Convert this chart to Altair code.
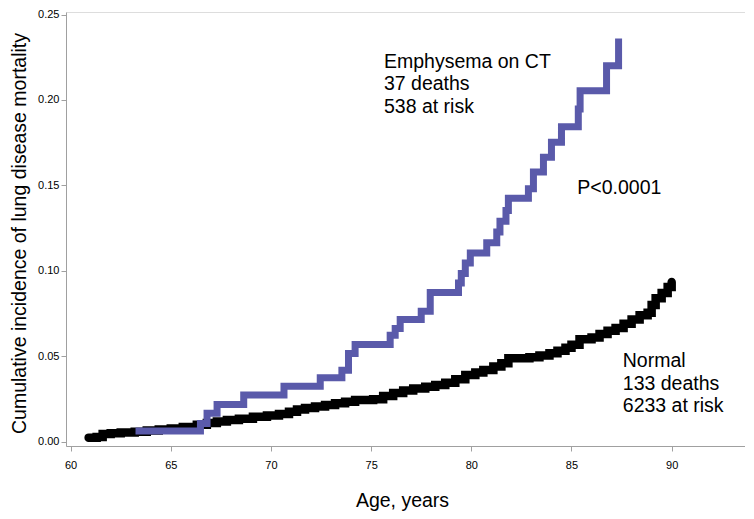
import altair as alt
import pandas as pd

# Emphysema on CT (Kaplan-Meier style step curve)
emph_age = [63.24, 66.48, 66.81, 67.31, 68.64, 70.65, 72.46, 73.54, 73.87, 74.20,
            75.95, 76.20, 76.45, 77.50, 77.95, 79.36, 79.50, 79.70, 79.95, 80.77,
            81.27, 81.43, 81.73, 81.85, 82.85, 83.10, 83.60, 84.00, 84.50, 85.34,
            85.43, 86.75, 87.35]
emph_cum = [0.0063, 0.0107, 0.0166, 0.0218, 0.0273, 0.0325, 0.0375, 0.0419, 0.0516, 0.0569,
            0.0623, 0.0662, 0.0715, 0.0763, 0.0874, 0.0929, 0.0984, 0.1046, 0.1104, 0.1165,
            0.1227, 0.1291, 0.1353, 0.1425, 0.1480, 0.1578, 0.1665, 0.1753, 0.1844, 0.1947,
            0.2054, 0.2200, 0.2360]

# Normal
norm_age = [60.9, 61.3, 61.6, 62.0, 62.5, 63.2, 63.8, 64.4, 65.0, 65.6,
            66.3, 66.8, 67.3, 67.8, 68.4, 69.1, 69.8, 70.4, 70.9, 71.3,
            71.7, 72.2, 72.7, 73.2, 73.7, 74.2, 75.1, 75.6, 76.1, 76.6,
            77.1, 77.7, 78.2, 78.7, 79.2, 79.7, 80.2, 80.6, 81.1, 81.5,
            81.85, 82.9, 83.4, 83.9, 84.3, 84.7, 85.0, 85.4, 86.0, 86.4,
            86.8, 87.2, 87.6, 88.0, 88.4, 88.8, 89.0, 89.2, 89.5, 89.8, 90.0]
norm_cum = [0.0024, 0.0028, 0.0045, 0.0050, 0.0054, 0.0059, 0.0065, 0.0071, 0.0078, 0.0086,
            0.0100, 0.0110, 0.0118, 0.0127, 0.0134, 0.0146, 0.0154, 0.0162, 0.0175, 0.0188,
            0.0198, 0.0206, 0.0215, 0.0225, 0.0234, 0.0244, 0.0248, 0.0268, 0.0285, 0.0300,
            0.0312, 0.0322, 0.0332, 0.0345, 0.0365, 0.0390, 0.0405, 0.0420, 0.0440, 0.0460,
            0.0488, 0.0494, 0.0505, 0.0518, 0.0532, 0.0550, 0.0568, 0.0600, 0.0610, 0.0630,
            0.0650, 0.0665, 0.0690, 0.0715, 0.0740, 0.0755, 0.0800, 0.0840, 0.0870, 0.0905, 0.0935]

x_ticks = [60, 65, 70, 75, 80, 85, 90]
y_ticks = [0.0, 0.05, 0.10, 0.15, 0.20, 0.25]

ann_text = ["Emphysema on CT", "37 deaths", "538 at risk", "P<0.0001",
            "Normal", "133 deaths", "6233 at risk"]
ann_x = [75.64, 75.64, 75.64, 85.29, 87.56, 87.56, 87.56]
ann_y = [0.2189, 0.2059, 0.1923, 0.1450, 0.0437, 0.0305, 0.0175]

emph = pd.DataFrame({"age": emph_age, "cum": emph_cum})
norm = pd.DataFrame({"age": norm_age, "cum": norm_cum})
ann = pd.DataFrame({"t": ann_text, "age": ann_x, "cum": ann_y})

GRAY = "#a0a0a0"
FONT = "Liberation Sans, Arial, sans-serif"

xscale = alt.Scale(domain=[59.77, 93.66], nice=False, zero=False)
yscale = alt.Scale(domain=[-0.0025, 0.2515], nice=False, zero=False)

xaxis = alt.Axis(values=x_ticks, format="d", grid=False, title="Age, years",
                 labelFont=FONT, labelFontSize=11, labelColor="black", labelPadding=8,
                 tickSize=5, tickColor=GRAY, domainColor=GRAY,
                 titleFont=FONT, titleFontSize=19.5, titleFontWeight="normal", titleColor="black",
                 titleX=336, titleY=60, titleAlign="center", titleBaseline="alphabetic")
yaxis = alt.Axis(values=y_ticks, format=".2f", grid=False,
                 title="Cumulative incidence of lung disease mortality",
                 labelFont=FONT, labelFontSize=11, labelColor="black", labelPadding=2,
                 tickSize=5, tickColor=GRAY, domainColor=GRAY,
                 titleFont=FONT, titleFontSize=19.5, titleFontWeight="normal", titleColor="black",
                 titleX=-41, titleY=221, titleAngle=270, titleAlign="center",
                 titleBaseline="alphabetic")

black = alt.Chart(norm).mark_line(interpolate="step-after", color="black",
                                  strokeWidth=8.5, strokeCap="round").encode(
    x=alt.X("age:Q", scale=xscale, axis=xaxis),
    y=alt.Y("cum:Q", scale=yscale, axis=yaxis),
)
blue = alt.Chart(emph).mark_line(interpolate="step-after", color="#5a5aaa",
                                 strokeWidth=7, strokeCap="butt").encode(
    x=alt.X("age:Q", scale=xscale),
    y=alt.Y("cum:Q", scale=yscale),
)
text = alt.Chart(ann).mark_text(align="left", baseline="alphabetic", font=FONT,
                                fontSize=19.5, color="black").encode(
    x=alt.X("age:Q", scale=xscale),
    y=alt.Y("cum:Q", scale=yscale),
    text="t:N",
)

chart = alt.layer(black, blue, text).properties(
    width=679, height=434,
    autosize=alt.AutoSizeParams(type="none"),
    padding={"left": 58, "top": 4, "right": 0, "bottom": 65},
).configure_view(stroke=GRAY, strokeWidth=1).configure(background="white")

chart.save("out.html", embed_options={"renderer": "svg", "actions": False})
